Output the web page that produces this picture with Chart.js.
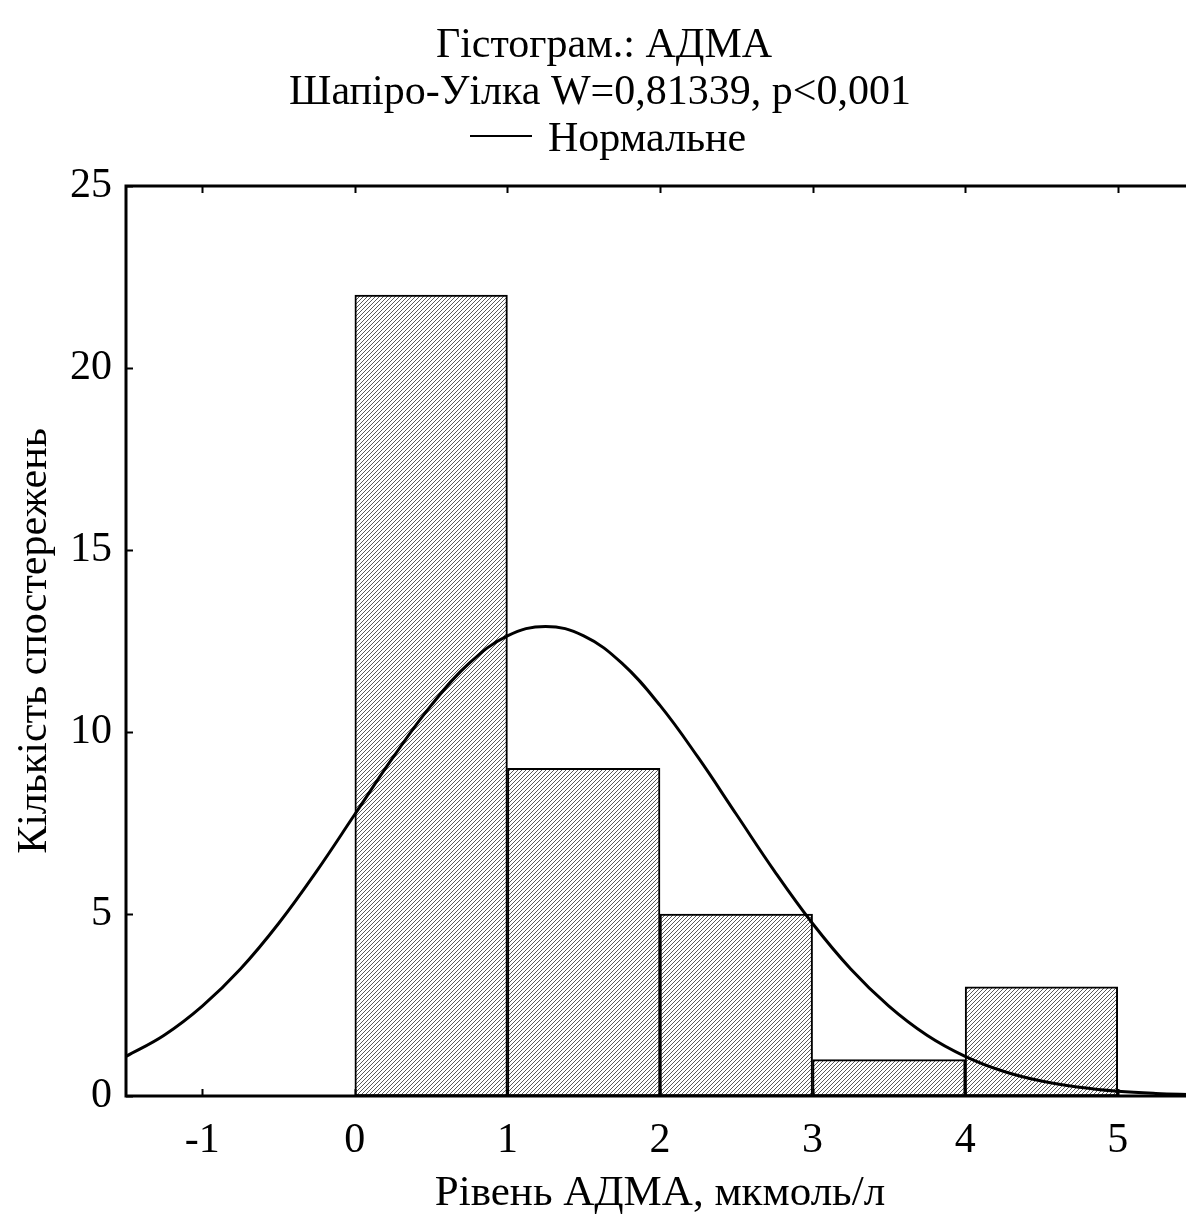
<!DOCTYPE html>
<html>
<head>
<meta charset="utf-8">
<script src="https://cdn.jsdelivr.net/npm/chart.js@4/dist/chart.umd.min.js"></script>
<style>
  html, body { margin: 0; padding: 0; background: #fff; overflow: hidden; }
  #wrap { width: 1200px; height: 1214px; }
</style>
</head>
<body>
<div id="wrap"><canvas id="hist" width="1200" height="1214"></canvas></div>
<script>
// histogram bins (edges) and counts
const binEdges = [0, 1, 2, 3, 4, 5];
const binCounts = [22, 9, 5, 1, 3];

// fitted normal curve, sampled every 0.25
const curveX = [-1.5, -1.25, -1, -0.75, -0.5, -0.25, 0, 0.25, 0.5, 0.75, 1, 1.25, 1.5, 1.75, 2,
                2.25, 2.5, 2.75, 3, 3.25, 3.5, 3.75, 4, 4.25, 4.5, 4.75, 5, 5.25, 5.5];
const curveY = [1.09, 1.67, 2.47, 3.49, 4.74, 6.18, 7.74, 9.30, 10.73, 11.89, 12.64, 12.90, 12.64, 11.89, 10.73,
                9.30, 7.74, 6.18, 4.74, 3.49, 2.47, 1.67, 1.09, 0.68, 0.41, 0.24, 0.13, 0.07, 0.04];

const xTicks = [-1, 0, 1, 2, 3, 4, 5];
const yTicks = [0, 5, 10, 15, 20, 25];

const titleLines = ['Гістограм.: АДМА', 'Шапіро-Уілка W=0,81339, p<0,001'];
const legendLabel = 'Нормальне';
const xTitle = 'Рівень АДМА, мкмоль/л';
const yTitle = 'Кількість спостережень';

const FONT = '"Liberation Serif", "Times New Roman", serif';

// diagonal hatch fill for the bars
function hatch() {
  const t = document.createElement('canvas');
  t.width = 4; t.height = 4;
  const g = t.getContext('2d');
  g.fillStyle = '#fff';
  g.fillRect(0, 0, 4, 4);
  g.fillStyle = '#5a5a5a';
  for (let i = 0; i < 4; i++) g.fillRect(i, 3 - i, 1, 1);
  return g.createPattern(t, 'repeat');
}

// frame with inward ticks, title lines and the legend entry
const frame = {
  id: 'frame',
  afterDatasetsDraw(chart) {
    const { ctx, chartArea: a, scales } = chart;
    ctx.save();
    ctx.strokeStyle = '#000';
    ctx.lineWidth = 2;
    const tl = 7;
    xTicks.forEach(v => {
      const px = Math.round(scales.x.getPixelForValue(v)) + 0.5;
      ctx.beginPath();
      ctx.moveTo(px, a.bottom); ctx.lineTo(px, a.bottom - tl);
      ctx.moveTo(px, a.top); ctx.lineTo(px, a.top + tl);
      ctx.stroke();
    });
    yTicks.forEach(v => {
      const py = Math.round(scales.y.getPixelForValue(v)) + 0.5;
      ctx.beginPath();
      ctx.moveTo(a.left, py); ctx.lineTo(a.left + tl, py);
      ctx.moveTo(a.right, py); ctx.lineTo(a.right - tl, py);
      ctx.stroke();
    });
    ctx.lineWidth = 3;
    ctx.strokeRect(a.left, a.top, a.right - a.left, a.bottom - a.top);
    ctx.restore();
  },
  afterDraw(chart) {
    const { ctx } = chart;
    ctx.save();
    ctx.fillStyle = '#000';
    ctx.font = '42px ' + FONT;
    ctx.textAlign = 'center';
    ctx.textBaseline = 'alphabetic';
    ctx.fillText(titleLines[0], 604, 57);
    ctx.fillText(titleLines[1], 600, 104);
    ctx.strokeStyle = '#000';
    ctx.lineWidth = 2;
    ctx.beginPath();
    ctx.moveTo(470, 136); ctx.lineTo(532, 136);
    ctx.stroke();
    ctx.textAlign = 'left';
    ctx.fillText(legendLabel, 548, 151);
    ctx.restore();
  }
};

new Chart(document.getElementById('hist'), {
  type: 'bar',
  data: {
    datasets: [
      {
        type: 'line',
        data: curveX.map((x, i) => ({ x, y: curveY[i] })),
        borderColor: '#000',
        borderWidth: 3,
        pointRadius: 0,
        tension: 0.4,
        fill: false,
        order: 0
      },
      {
        type: 'bar',
        data: binCounts.map((c, i) => ({ x: (binEdges[i] + binEdges[i + 1]) / 2, y: c })),
        backgroundColor: hatch(),
        borderColor: '#000',
        borderWidth: 2,
        borderSkipped: false,
        barPercentage: 1,
        categoryPercentage: 1,
        order: 1
      }
    ]
  },
  options: {
    responsive: false,
    devicePixelRatio: 1,
    animation: false,
    layout: { padding: { top: 186, right: 6, left: 0, bottom: 0 } },
    plugins: { legend: { display: false }, tooltip: { enabled: false } },
    scales: {
      x: {
        type: 'linear',
        offset: false,
        min: -1.5,
        max: 5.5,
        afterBuildTicks: s => { s.ticks = xTicks.map(v => ({ value: v })); },
        afterFit: s => { s.height = 118; },
        grid: { display: false, drawTicks: false, offset: false },
        border: { display: false },
        ticks: { color: '#000', font: { family: FONT, size: 42 }, padding: 20, maxRotation: 0 },
        title: { display: true, text: xTitle, color: '#000', font: { family: FONT, size: 43 }, padding: { top: 0, bottom: -6 } }
      },
      y: {
        min: 0,
        max: 25,
        afterBuildTicks: s => { s.ticks = yTicks.map(v => ({ value: v })); },
        afterFit: s => { s.width = 126; },
        grid: { display: false, drawTicks: false },
        border: { display: false },
        ticks: { color: '#000', font: { family: FONT, size: 42 }, padding: 14 },
        title: { display: true, text: yTitle, color: '#000', font: { family: FONT, size: 42 }, padding: { top: 10, bottom: 0 } }
      }
    }
  },
  plugins: [frame]
});
</script>
</body>
</html>
